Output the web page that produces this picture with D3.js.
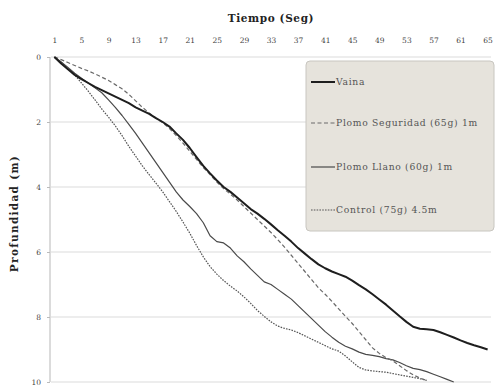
<!DOCTYPE html>
<html><head><meta charset="utf-8">
<script src="https://cdn.jsdelivr.net/npm/d3@7"></script>
<style>body{margin:0;background:#fff}svg{display:block}text{font-family:"DejaVu Serif","Liberation Serif",serif}</style>
</head><body><svg id="c" width="497" height="388"></svg>
<script>
const categories = d3.range(1, 66);
const tickLabels = [1,5,9,13,17,21,25,29,33,37,41,45,49,53,57,61,65];
const yTicks = [0,2,4,6,8,10];
const seriesNames = ["Vaina","Plomo Seguridad (65g) 1m","Plomo Llano (60g) 1m","Control (75g) 4.5m"];
const vaina = [0,0.2,0.38,0.55,0.68,0.8,0.92,1.02,1.12,1.22,1.32,1.42,1.55,1.65,1.75,1.88,2.0,2.14,2.35,2.55,2.8,3.08,3.35,3.58,3.8,4.0,4.15,4.32,4.5,4.68,4.82,4.98,5.15,5.33,5.5,5.68,5.88,6.05,6.22,6.38,6.5,6.6,6.68,6.76,6.88,7.02,7.15,7.3,7.46,7.62,7.8,7.98,8.15,8.3,8.36,8.38,8.4,8.47,8.55,8.63,8.72,8.8,8.87,8.93,9.0];
const seguridad = [0,0.08,0.17,0.26,0.35,0.43,0.52,0.62,0.72,0.85,0.98,1.15,1.35,1.55,1.72,1.88,2.02,2.2,2.42,2.65,2.9,3.15,3.4,3.62,3.85,4.05,4.22,4.4,4.6,4.8,5.0,5.2,5.4,5.62,5.85,6.1,6.35,6.6,6.85,7.1,7.3,7.52,7.75,7.98,8.2,8.45,8.7,8.95,9.12,9.25,9.35,9.5,9.65,9.78,9.88,9.95];
const llano = [0,0.15,0.32,0.5,0.65,0.8,0.95,1.1,1.32,1.55,1.8,2.07,2.35,2.65,2.95,3.25,3.55,3.85,4.15,4.4,4.6,4.82,5.1,5.5,5.68,5.72,5.88,6.12,6.3,6.52,6.72,6.92,7.0,7.15,7.3,7.45,7.65,7.85,8.05,8.25,8.45,8.62,8.78,8.9,8.98,9.08,9.15,9.18,9.22,9.28,9.32,9.4,9.5,9.58,9.62,9.68,9.76,9.84,9.92,10.0];
const control = [0,0.15,0.35,0.55,0.8,1.05,1.32,1.6,1.85,2.12,2.42,2.75,3.05,3.35,3.62,3.88,4.15,4.45,4.75,5.08,5.42,5.8,6.15,6.45,6.68,6.88,7.05,7.2,7.38,7.58,7.8,7.98,8.15,8.28,8.35,8.4,8.48,8.58,8.68,8.78,8.88,8.98,9.05,9.2,9.38,9.55,9.63,9.66,9.68,9.7,9.74,9.78,9.82,9.86,9.9,9.95];

const svg = d3.select("#c");
const L = 51, R = 491, T = 57, B = 382;
const x = d3.scalePoint().domain(categories).range([L, R]).padding(0.5);
const y = d3.scaleLinear().domain([0, 10]).range([T, B]);

// gridlines
svg.append("g").selectAll("line").data(yTicks).join("line")
  .attr("x1", L).attr("x2", R).attr("y1", d => y(d)).attr("y2", d => y(d))
  .attr("stroke", "#dcdcdc").attr("stroke-width", 1.2);
svg.append("line").attr("x1", L-1).attr("x2", L-1).attr("y1", T).attr("y2", B)
  .attr("stroke", "#cfcfcf").attr("stroke-width", 1.5);

// y axis
const ya = d3.axisLeft(y).tickValues(yTicks).tickSize(3).tickPadding(6);
const gy = svg.append("g").attr("transform", `translate(${L-1},0)`).call(ya);
gy.select(".domain").remove();
gy.selectAll("line").attr("stroke", "#bbb");
gy.selectAll("text").attr("font-size", 7.5).attr("fill", "#444");

// x axis (top)
const xa = d3.axisTop(x).tickValues(tickLabels).tickSize(0).tickPadding(14);
const gx = svg.append("g").attr("transform", `translate(0,${T})`).call(xa);
gx.select(".domain").remove();
gx.selectAll("text").attr("font-size", 7.5).attr("fill", "#444");

// titles
svg.append("text").attr("x", (L+R)/2).attr("y", 22).attr("text-anchor", "middle")
  .attr("font-size", 10.5).attr("letter-spacing", 0.6).attr("font-weight", "bold").attr("fill", "#222").text("Tiempo (Seg)");
svg.append("text").attr("transform", `translate(18,${(T+B)/2 - 6}) rotate(-90)`).attr("text-anchor", "middle")
  .attr("font-size", 10.5).attr("letter-spacing", 1.3).attr("font-weight", "bold").attr("fill", "#222").text("Profundidad (m)");

const styles = [
  {data: vaina, stroke: "#1e1e1e", w: 2, dash: null},
  {data: seguridad, stroke: "#6a6a6a", w: 1.2, dash: "4,2.5"},
  {data: llano, stroke: "#4a4a4a", w: 1.2, dash: null},
  {data: control, stroke: "#555", w: 1.2, dash: "1.6,1.2"}
];
const line = d3.line().x((d, i) => x(categories[i])).y(d => y(d));
styles.slice().reverse().forEach(s => {
  svg.append("path").attr("d", line(s.data)).attr("fill", "none")
    .attr("stroke", s.stroke).attr("stroke-width", s.w)
    .attr("stroke-dasharray", s.dash).attr("stroke-linejoin", "round");
});

// legend
const lg = svg.append("g");
lg.append("rect").attr("x", 306).attr("y", 61).attr("width", 188).attr("height", 170)
  .attr("rx", 4).attr("fill", "#e6e3dc").attr("stroke", "#c8c6c0");
const ly = [82, 123, 167, 210];
styles.forEach((s, i) => {
  lg.append("line").attr("x1", 311).attr("x2", 335).attr("y1", ly[i]).attr("y2", ly[i])
    .attr("stroke", s.stroke).attr("stroke-width", s.w).attr("stroke-dasharray", s.dash);
  lg.append("text").attr("x", 336).attr("y", ly[i] + 3).attr("font-size", 9.2)
    .attr("letter-spacing", 0.7).attr("fill", "#555").text(seriesNames[i]);
});
</script></body></html>
